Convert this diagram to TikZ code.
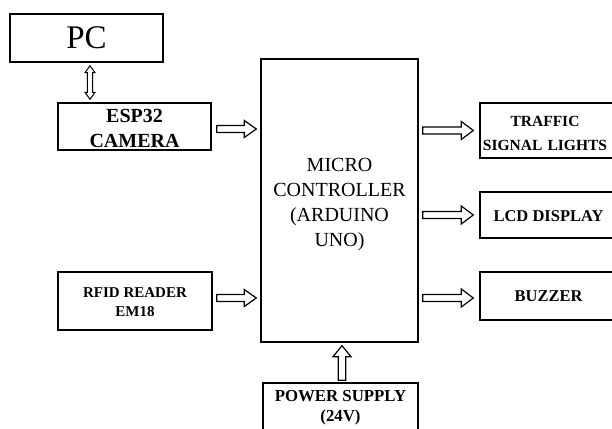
\documentclass[tikz,border=0pt]{standalone}
\usepackage{fontspec}
\setmainfont{Liberation Serif}
\usetikzlibrary{calc}
\newcommand\lowerby[1]{\rule{0pt}{#1}}
\begin{document}
\begin{tikzpicture}[x=1pt,y=-1pt]
\tikzset{
  blk/.style={draw, line width=1.4pt, inner sep=0pt, align=center, rectangle},
  barrow/.style n args={3}{draw, line width=1.2pt, line join=miter, to path={
    (\tikztostart) coordinate (ba) (\tikztotarget) coordinate (bb)
    ($(bb)!#3!(ba)$) coordinate (bh)
    ($(ba)!#1!90:(bb)$) -- ($(bh)!#1!90:(bb)$) -- ($(bh)!#2!90:(bb)$) -- (bb)
    -- ($(bh)!#2!-90:(bb)$) -- ($(bh)!#1!-90:(bb)$) -- ($(ba)!#1!-90:(bb)$) -- cycle}},
  dbarrow/.style n args={3}{draw, line width=1pt, line join=miter, to path={
    (\tikztostart) coordinate (ba) (\tikztotarget) coordinate (bb)
    ($(bb)!#3!(ba)$) coordinate (bh) ($(ba)!#3!(bb)$) coordinate (bg)
    (ba) -- ($(bg)!#2!90:(bb)$) -- ($(bg)!#1!90:(bb)$) -- ($(bh)!#1!90:(bb)$) -- ($(bh)!#2!90:(bb)$) -- (bb)
    -- ($(bh)!#2!-90:(bb)$) -- ($(bh)!#1!-90:(bb)$) -- ($(bg)!#1!-90:(bb)$) -- ($(bg)!#2!-90:(bb)$) -- cycle}}
}
\useasboundingbox[fill=white] (0,0) rectangle (612,428);
% boxes
\node[blk, minimum width=153pt, minimum height=48pt, font=\fontsize{33}{36}\selectfont] (pc) at (86.5,38) {PC};
\node[blk, minimum width=153pt, minimum height=47pt, font=\fontsize{20}{25}\selectfont\bfseries] (esp) at (134.5,126.5) {\lowerby{17.5pt}ESP32\\CAMERA};
\node[blk, minimum width=157pt, minimum height=283pt, font=\fontsize{20}{25}\selectfont] (mc) at (339.5,200.5) {\lowerby{21.5pt}MICRO\\CONTROLLER\\(ARDUINO\\UNO)};
\node[blk, minimum width=154pt, minimum height=58pt, font=\fontsize{15}{18.5}\selectfont\bfseries] (rfid) at (135,301) {\lowerby{12pt}RFID READER\\EM18};
\node[blk, minimum width=155pt, minimum height=50pt, font=\fontsize{16.8}{20}\selectfont\bfseries] (pw) at (340.5,408) {POWER SUPPLY\\(24V)};
\node[blk, minimum width=137pt, minimum height=55pt, font=\fontsize{15.5}{24}\selectfont\bfseries, text width=137pt] (tl) at (548.5,130.5) {\lowerby{17pt}\hspace*{-7pt}TRAFFIC\\\hspace*{-7pt}SIGNAL LIGHTS};
\node[blk, minimum width=137pt, minimum height=46pt, font=\fontsize{16.5}{20}\selectfont\bfseries] (lcd) at (548.5,215) {\lowerby{14pt}LCD DISPLAY};
\node[blk, minimum width=137pt, minimum height=48pt, font=\fontsize{16.5}{20}\selectfont\bfseries] (bz) at (548.5,296) {BUZZER};
\coordinate (dx) at (90,0);
% connectors
\draw[dbarrow={2.6pt}{5pt}{7pt}] ($(pc.south -| dx)+(0,3)$) to ($(esp.north -| dx)+(0,-3)$);
\draw[barrow={3.5pt}{8.5pt}{12pt}] ($(esp.east)+(5,2.5)$) to ($(esp.east -| mc.west)+(-4,2.5)$);
\draw[barrow={3.5pt}{8.5pt}{12pt}] ($(rfid.east)+(4,-3)$) to ($(rfid.east -| mc.west)+(-4,-3)$);
\draw[barrow={3.5pt}{9pt}{12pt}] ($(mc.east |- tl.west)+(4,0)$) to ($(tl.west)+(-6,0)$);
\draw[barrow={3.5pt}{9pt}{12pt}] ($(mc.east |- lcd.west)+(4,0)$) to ($(lcd.west)+(-6,0)$);
\draw[barrow={3.5pt}{9pt}{12pt}] ($(mc.east |- bz.west)+(4,2)$) to ($(bz.west)+(-6,2)$);
\draw[barrow={3.8pt}{9pt}{11pt}] ($(pw.north)+(1.5,-2)$) to ($(pw.north |- mc.south)+(1.5,3)$);
\end{tikzpicture}
\end{document}
